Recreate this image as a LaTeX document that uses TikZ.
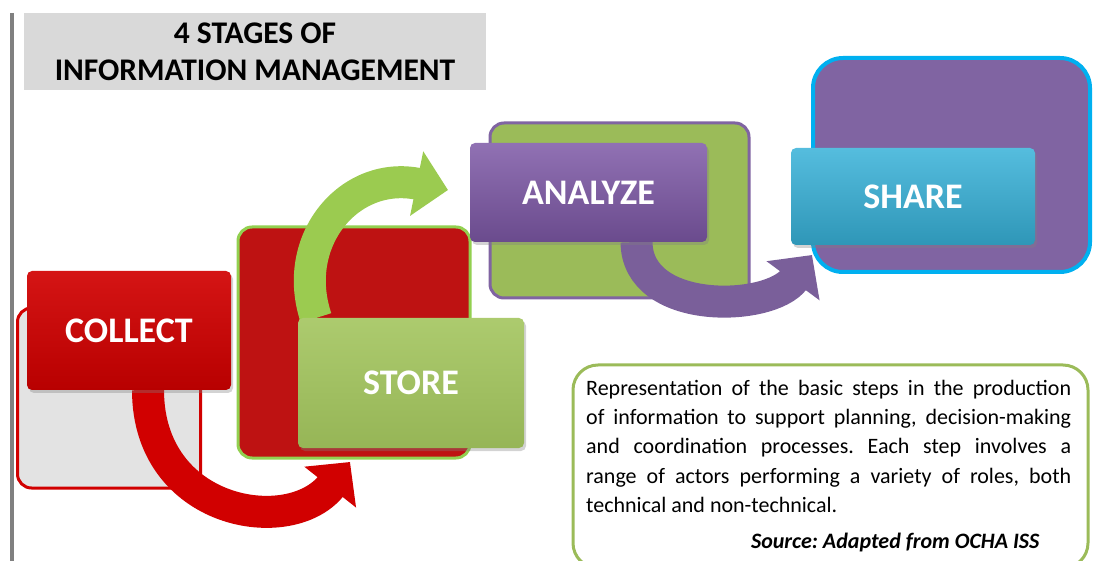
\documentclass[tikz,border=0pt]{standalone}
\usepackage{fontspec}
\setmainfont{Carlito}
\usepackage{tikz}
\usetikzlibrary{arrows.meta,shadows}
\definecolor{cred}{HTML}{D10000}
\definecolor{cdarkred}{HTML}{BE1212}
\definecolor{cgreen}{HTML}{A3C55E}
\definecolor{cleaf}{HTML}{92D050}
\definecolor{cband}{HTML}{9BCB50}
\definecolor{colive}{HTML}{9BBB59}
\definecolor{cpurple}{HTML}{7D58A6}
\definecolor{clavender}{HTML}{8064A2}
\definecolor{ccyan}{HTML}{37B1D8}
\definecolor{csky}{HTML}{00B0F0}
\definecolor{cpale}{HTML}{E3E3E3}
\definecolor{ctitle}{HTML}{D9D9D9}
\pgfdeclarelayer{back}
\pgfsetlayers{back,main}
\tikzset{
  backbox/.style={rounded corners=14pt,line width=3pt,inner sep=0pt},
  stage/.style={rounded corners=5pt,text=white,inner sep=0pt,outer sep=0pt,
    font=\fontsize{36}{38}\selectfont\bfseries,
    drop shadow={opacity=0.35,shadow xshift=2pt,shadow yshift=-3pt}},
  band/.style={line width=32pt,-{Triangle[length=32pt,width=64pt]}},
}
\frenchspacing

\begin{document}
\begin{tikzpicture}[x=1pt,y=-1pt]
  \useasboundingbox (0,0) rectangle (1093,561);
  \draw[line width=4pt,gray] (12,13) -- (12,561);
  \node[fill=ctitle,minimum width=462pt,minimum height=77pt,align=center,
    font=\fontsize{31.5}{37}\selectfont\bfseries] (title) at (255,51.5)
    {4 STAGES OF\\INFORMATION MANAGEMENT};

  % the four stages
  \node[stage,top color=cred!92!white,bottom color=cred!88!black,
    minimum width=204pt,minimum height=119pt] (collect) at (129,330.5) {COLLECT};
  \node[stage,top color=cgreen!90!white,bottom color=cgreen!92!black,
    minimum width=226pt,minimum height=130pt] (store) at (411,383) {STORE};
  \node[stage,top color=cpurple!85!white,bottom color=cpurple!85!black,
    minimum width=237pt,minimum height=99pt] (analyze) at (588.5,192.5) {ANALYZE};
  \node[stage,top color=ccyan!85!white,bottom color=ccyan!85!black,
    minimum width=244pt,minimum height=97pt] (share) at (913,196.5) {SHARE};

  \coordinate (redtip) at (350,462);
  \coordinate (greentip) at (448,190);
  \coordinate (purpletip) at (812,255);

  \begin{pgfonlayer}{back}
    \node[backbox,draw=cred,fill=cpale,minimum width=183pt,minimum height=180pt]
      (collectbg) at (109,398) {};
    \node[backbox,draw=cleaf,fill=cdarkred,minimum width=232pt,minimum height=231pt]
      (storebg) at (354,342.5) {};
    \node[backbox,draw=clavender,fill=colive,minimum width=259pt,minimum height=175pt]
      (analyzebg) at (619.5,210.5) {};
    \node[backbox,draw=csky,fill=clavender,line width=4pt,rounded corners=30pt,
      minimum width=277pt,minimum height=214pt] (sharebg) at (951.5,165) {};
    \draw[band,cred] ([xshift=19pt]collect.south) .. controls (148,515)
      and (290,538) .. (redtip);
    \draw[band,cband] ([xshift=-95pt]store.north) .. controls (290,240)
      and (350,170) .. (greentip);
    \draw[band,clavender!95!black] ([xshift=48pt]analyze.south) .. controls (637,316)
      and (770,312) .. (purpletip);
  \end{pgfonlayer}

  % note
  \node[draw=colive,line width=3pt,rounded corners=25pt,minimum width=515pt,
    minimum height=203pt] (notebox) at (830.5,466.5) {};
  \node[anchor=north west,text width=485pt,align=justify,inner sep=0pt,
    font=\fontsize{22}{29.2}\selectfont] (note) at (586,380)
    {Representation of the basic steps in the production\linebreak
     of information to support planning, decision-making\linebreak
     and coordination processes. Each step involves a\linebreak
     range of actors performing a variety of roles, both\linebreak
     technical and non-technical.};
  \node[anchor=base east,font=\fontsize{22}{24}\selectfont\bfseries\itshape]
    (source) at (1043,548) {Source: Adapted from OCHA ISS};
\end{tikzpicture}
\end{document}
